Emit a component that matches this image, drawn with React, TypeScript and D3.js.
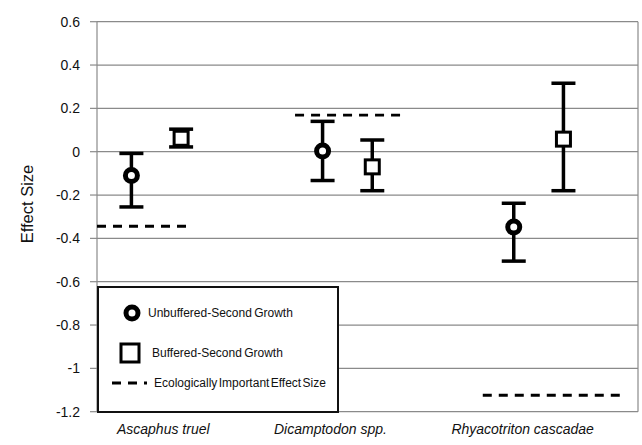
import React from "react";
import * as d3 from "d3";

// species on the x axis
const categories = ["Ascaphus truel", "Dicamptodon spp.", "Rhyacotriton cascadae"];

// Unbuffered-Second Growth: mean effect size and CI
const unbufferedMean = [-0.11, 0.003, -0.348];
const unbufferedLow = [-0.255, -0.133, -0.505];
const unbufferedHigh = [-0.008, 0.14, -0.238];

// Buffered-Second Growth
const bufferedMean = [0.062, -0.07, 0.058];
const bufferedLow = [0.022, -0.18, -0.18];
const bufferedHigh = [0.104, 0.054, 0.316];

// ecologically important effect size, with the x span of each dashed line (category units)
const thresholds = [-0.344, 0.169, -1.124];
const thresholdFrom = [-0.31, 0.726, 1.708];
const thresholdTo = [0.18, 1.285, 2.433];

const yTicks = [0.6, 0.4, 0.2, 0, -0.2, -0.4, -0.6, -0.8, -1, -1.2];

const W = 642;
const H = 445;
const left = 97;
const right = 638;
const top = 21.7;
const bottom = 411.7;

const FONT = "'Liberation Sans', Arial, sans-serif";

export default function App() {
  const x = d3.scaleLinear().domain([-0.31, 2.52]).range([left, right]);
  const y = d3.scaleLinear().domain([-1.2, 0.6]).range([bottom, top]);
  const off = 0.13;
  const cap = 12;
  const labelNudge = [7, -17, -16];

  const errBar = (cx: number, lo: number, hi: number, key: string) => (
    <g key={key} stroke="#000" strokeWidth={3.5}>
      <line x1={cx} x2={cx} y1={y(lo)} y2={y(hi)} />
      <line x1={cx - cap} x2={cx + cap} y1={y(lo)} y2={y(lo)} />
      <line x1={cx - cap} x2={cx + cap} y1={y(hi)} y2={y(hi)} />
    </g>
  );

  return (
    <svg
      width={W}
      height={H}
      style={{ position: "absolute", left: 0, top: 0, background: "#fff" }}
      fontFamily={FONT}
    >
      <rect width={W} height={H} fill="#fff" />
      {/* gridlines */}
      {yTicks.map((t) => (
        <g key={"g" + t}>
          <line x1={left} x2={right} y1={y(t)} y2={y(t)} stroke="#8a8a8a" strokeWidth={1.2} />
          <line x1={left - 7} x2={left} y1={y(t)} y2={y(t)} stroke="#8a8a8a" strokeWidth={1.2} />
          <text x={80} y={y(t) + 5} textAnchor="end" fontSize={14} fill="#111">
            {t}
          </text>
        </g>
      ))}
      <line x1={left} x2={left} y1={top} y2={bottom} stroke="#8a8a8a" strokeWidth={1.2} />
      <line x1={right} x2={right} y1={top} y2={bottom} stroke="#8a8a8a" strokeWidth={1.2} />

      {/* y title */}
      <text
        transform={`translate(33,204) rotate(-90)`}
        textAnchor="middle"
        fontSize={16.5}
        fill="#111"
      >
        Effect Size
      </text>

      {/* thresholds */}
      {thresholds.map((v, i) => (
        <line
          key={"th" + i}
          x1={x(thresholdFrom[i])}
          x2={x(thresholdTo[i])}
          y1={y(v)}
          y2={y(v)}
          stroke="#000"
          strokeWidth={2.8}
          strokeDasharray="9,7"
        />
      ))}

      {/* error bars */}
      {categories.map((c, i) => errBar(x(i - off), unbufferedLow[i], unbufferedHigh[i], "ue" + i))}
      {categories.map((c, i) => errBar(x(i + off), bufferedLow[i], bufferedHigh[i], "be" + i))}

      {/* markers */}
      {categories.map((c, i) => (
        <rect
          key={"bm" + i}
          x={x(i + off) - 7}
          y={y(bufferedMean[i]) - 7}
          width={14}
          height={14}
          fill="#fff"
          stroke="#000"
          strokeWidth={3}
        />
      ))}
      {categories.map((c, i) => (
        <circle
          key={"um" + i}
          cx={x(i - off)}
          cy={y(unbufferedMean[i])}
          r={6}
          fill="#fff"
          stroke="#000"
          strokeWidth={5}
        />
      ))}

      {/* category labels */}
      {categories.map((c, i) => (
        <text
          key={"cl" + i}
          x={x(i) + labelNudge[i]}
          y={434}
          textAnchor="middle"
          fontSize={14}
          fontStyle="italic"
          fill="#111"
        >
          {c}
        </text>
      ))}

      {/* legend */}
      <g>
        <rect x={98} y={287} width={240} height={125} fill="#fff" stroke="#111" strokeWidth={2} />
        <circle cx={132} cy={313} r={6} fill="#fff" stroke="#000" strokeWidth={5} />
        <text x={148} y={317} fontSize={12} fill="#111" wordSpacing={-1}>
          Unbuffered-Second Growth
        </text>
        <rect x={121} y={344} width={18} height={18} fill="#fff" stroke="#000" strokeWidth={3} />
        <text x={152} y={357} fontSize={12} fill="#111" wordSpacing={-1}>
          Buffered-Second Growth
        </text>
        <line x1={112} x2={147} y1={383} y2={383} stroke="#000" strokeWidth={2.8} strokeDasharray="9,7" />
        <text x={154} y={387} fontSize={12} fill="#111" wordSpacing={-2}>
          Ecologically Important Effect Size
        </text>
      </g>
    </svg>
  );
}
